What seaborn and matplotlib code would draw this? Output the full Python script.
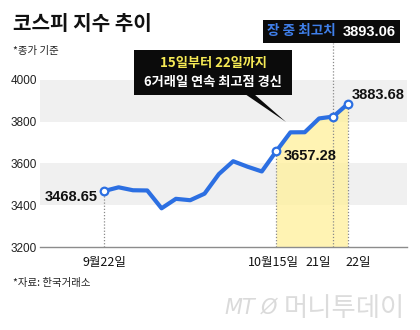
import matplotlib
matplotlib.use("Agg")
import matplotlib.pyplot as plt
from matplotlib.patches import Rectangle, Polygon
import seaborn as sns
import pandas as pd

# KOSPI daily closes, 2025-09-22 .. 2025-10-22 (trading days only)
dates = ["9/22", "9/23", "9/24", "9/25", "9/26", "9/29", "9/30", "10/1", "10/2",
         "10/10", "10/13", "10/14", "10/15", "10/16", "10/17", "10/20", "10/21", "10/22"]
close = [3468.65, 3486.19, 3472.14, 3471.11, 3386.05, 3431.21, 3424.60, 3455.83, 3549.21,
         3610.60, 3584.55, 3561.81, 3657.28, 3748.37, 3748.89, 3814.69, 3823.84, 3883.68]
intraday_high = 3893.06
y_ticks = [3200, 3400, 3600, 3800, 4000]
x_labels = {0: "9월22일", 12: "10월15일", 16: "21일", 17: "22일"}

start_i, streak_i, high_i, last_i = 0, 12, 16, 17

df = pd.DataFrame({"i": range(len(close)), "date": dates, "close": close})

BLUE = "#2C6FE2"
sns.set_theme(style="white")
plt.rcParams["font.family"] = ["Noto Sans CJK KR", "DejaVu Sans"]
NUM = ["Liberation Sans Narrow", "Liberation Sans", "DejaVu Sans"]

W, H = 420, 330
fig = plt.figure(figsize=(W / 100, H / 100), dpi=100)
fig.patch.set_facecolor("white")


def fx(px):
    return px / W


def fy(py):
    return 1 - py / H


ax = fig.add_axes([fx(40), fy(247.3), 367 / W, (247.3 - 79.6) / H])
ax.set_xlim(-4.49, 21.14)
ax.set_ylim(3200, 4000)

# alternating grey bands
ax.axhspan(3400, 3600, color="#F0F0F0", lw=0, zorder=0)
ax.axhspan(3800, 4000, color="#F0F0F0", lw=0, zorder=0)

# highlighted record streak
streak = df[df.i >= streak_i]
ax.fill_between(streak.i, 3200, streak.close, color="#FFF09A", alpha=0.75, lw=0, zorder=1)

# dotted guides
for i in (start_i, streak_i, last_i):
    ax.vlines(i, 3200, close[i], colors="#8A8A8A", linestyles=(0, (1, 1.5)), lw=0.9, zorder=2)
ax.axvline(high_i, ymin=0, ymax=(247.3 - 43) / (247.3 - 79.6), color="#8A8A8A",
           linestyle=(0, (1, 1.5)), lw=0.9, zorder=2, clip_on=False)

sns.lineplot(data=df, x="i", y="close", color=BLUE, lw=3.0, ax=ax, zorder=3,
             solid_capstyle="round", solid_joinstyle="round")
marks = df[df.i.isin([start_i, streak_i, high_i, last_i])]
sns.scatterplot(data=marks, x="i", y="close", s=30, color="white", edgecolor=BLUE,
                linewidth=1.6, ax=ax, zorder=4)

# value labels
lab = dict(fontsize=10.5, fontweight="bold", family=NUM, color="#111111",
           textcoords="offset points", va="center")
ax.annotate(f"{close[start_i]:.2f}", (start_i, close[start_i]), xytext=(-5, -4), ha="right", **lab)
ax.annotate(f"{close[streak_i]:.2f}", (streak_i, close[streak_i]), xytext=(5.5, -3), ha="left", **lab)
ax.annotate(f"{close[last_i]:.2f}", (last_i, close[last_i]), xytext=(3, 6.5), ha="left", **lab)

# axes styling
ax.set_yticks(y_ticks)
ax.set_yticklabels([str(v) for v in y_ticks], family=NUM, fontsize=8.5, color="#222222")
ax.tick_params(axis="y", length=0, pad=2)
ax.set_xticks([])
ax.set_xlabel("")
ax.set_ylabel("")
for s in ("top", "right", "left"):
    ax.spines[s].set_visible(False)
ax.spines["bottom"].set_color("#8C8C8C")
ax.spines["bottom"].set_linewidth(1.0)

xl = dict(fontsize=9, color="#111111", textcoords="offset points", va="top")
ax.annotate(x_labels[0], (0, 3200), xytext=(0, -6), ha="center", **xl)
ax.annotate(x_labels[12], (12, 3200), xytext=(-2, -6), ha="center", **xl)
ax.annotate(x_labels[16], (16, 3200), xytext=(-1.5, -6), ha="right", **xl)
ax.annotate(x_labels[17], (17, 3200), xytext=(-1.5, -6), ha="left", **xl)

# title and notes
fig.text(fx(13), fy(24), "코스피 지수 추이", fontsize=14.5, fontweight="heavy",
         color="#111111", va="center", ha="left")
fig.text(fx(13), fy(51), "*종가 기준", fontsize=7.5, color="#222222", va="center", ha="left")
fig.text(fx(13), fy(283), "*자료: 한국거래소", fontsize=7.5, color="#222222", va="center", ha="left")

# callout: record streak
fig.patches.append(Rectangle((fx(134), fy(95)), 158 / W, 45 / H, transform=fig.transFigure,
                             facecolor="#0B0B0B", edgecolor="none", zorder=5))
fig.patches.append(Polygon([(fx(245), fy(94)), (fx(254), fy(94)), (fx(286), fy(122))],
                           closed=True, transform=fig.transFigure, facecolor="#0B0B0B",
                           edgecolor="none", zorder=5))
fig.text(fx(213), fy(63), "15일부터 22일까지", fontsize=9.5, fontweight="bold",
         color="#F6EA55", ha="center", va="center", zorder=6)
fig.text(fx(213), fy(82), "6거래일 연속 최고점 경신", fontsize=9.5, fontweight="bold",
         color="white", ha="center", va="center", zorder=6)

# callout: intraday high
fig.patches.append(Rectangle((fx(263), fy(43)), 137 / W, 23 / H, transform=fig.transFigure,
                             facecolor="#0B0B0B", edgecolor="none", zorder=5))
fig.text(fx(267), fy(31.5), "장 중 최고치", fontsize=9.8, fontweight="bold",
         color="#3F7FEA", ha="left", va="center", zorder=6)
fig.text(fx(396), fy(31.5), f"{intraday_high:.2f}", fontsize=10.5, fontweight="bold",
         family=NUM, color="white", ha="right", va="center", zorder=6)

# publisher mark
fig.text(fx(224), fy(308), "MT", fontsize=15, style="italic", family=["DejaVu Sans"],
         color="#DADADA", ha="left", va="center")
fig.text(fx(261), fy(308), "Ø", fontsize=15, style="italic", family=["DejaVu Sans"],
         color="#DADADA", ha="left", va="center")
fig.text(fx(405), fy(308), "머니투데이", fontsize=19, fontweight="light",
         color="#DCDCDC", ha="right", va="center")

fig.savefig("out.png", dpi=100, facecolor="white")
